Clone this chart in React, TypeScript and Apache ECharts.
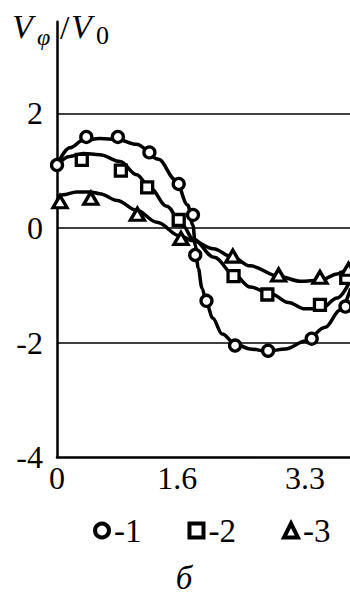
import React, { useEffect, useRef } from "react";
import * as echarts from "echarts";

// ---- data ----
const xTickValues = [0, 1.6, 3.3];
const yTickValues = [-4, -2, 0, 2];
const gridLevels = [2, 0, -2];
const legendNames = ["-1", "-2", "-3"];

// measured points, series 1 (circles)
const pts1X = [0, 0.39, 0.81, 1.23, 1.62, 1.81, 1.84, 1.99, 2.37, 2.81, 3.39, 3.84];
const pts1Y = [1.1, 1.59, 1.59, 1.32, 0.77, 0.23, -0.47, -1.27, -2.05, -2.14, -1.93, -1.37];
// series 2 (squares)
const pts2X = [0.33, 0.85, 1.2, 1.62, 2.35, 2.8, 3.5, 3.85];
const pts2Y = [1.19, 1.0, 0.71, 0.14, -0.84, -1.16, -1.34, -0.87];
// series 3 (triangles)
const pts3X = [0.04, 0.45, 1.07, 1.65, 2.34, 2.95, 3.5, 3.88];
const pts3Y = [0.46, 0.52, 0.24, -0.18, -0.49, -0.82, -0.86, -0.72];

// fitted curves
const fit1X = [0, 0.17, 0.35, 0.57, 0.8, 1.06, 1.35, 1.58, 1.74, 1.81, 1.84, 1.88, 1.93, 1.99, 2.07, 2.2, 2.37, 2.57, 2.8, 3.04, 3.31, 3.57, 3.77, 3.91];
const fit1Y = [1.1, 1.4, 1.53, 1.56, 1.55, 1.46, 1.2, 0.84, 0.4, 0.05, -0.3, -0.7, -1.05, -1.3, -1.57, -1.85, -2.02, -2.11, -2.15, -2.11, -1.97, -1.73, -1.43, -1.05];
const fit2X = [0, 0.17, 0.35, 0.57, 0.84, 1.06, 1.24, 1.46, 1.68, 1.81, 2.09, 2.37, 2.57, 2.84, 3.08, 3.3, 3.51, 3.73, 3.91];
const fit2Y = [1.1, 1.25, 1.3, 1.28, 1.16, 0.93, 0.7, 0.38, 0.03, -0.19, -0.51, -0.83, -1.03, -1.14, -1.3, -1.41, -1.41, -1.22, -0.9];
const fit3X = [0, 0.08, 0.26, 0.44, 0.57, 0.8, 1.06, 1.33, 1.64, 1.81, 2.08, 2.33, 2.57, 2.95, 3.24, 3.51, 3.73, 3.91];
const fit3Y = [0.49, 0.58, 0.63, 0.63, 0.6, 0.48, 0.31, 0.1, -0.14, -0.22, -0.36, -0.5, -0.66, -0.84, -0.93, -0.91, -0.8, -0.66];

const zip = (xs: number[], ys: number[]) => xs.map((x, i) => [x, ys[i]]);

const FONT = '"Liberation Serif", "Times New Roman", serif';

export default function App() {
  const ref = useRef<HTMLDivElement>(null);
  useEffect(() => {
    if (!ref.current) return;
    const chart = echarts.init(ref.current, undefined, { renderer: "svg" });
    const lineStyle = { color: "#000", width: 3.5 };
    const markerStyle = { color: "#fff", borderColor: "#000", borderWidth: 3.3, opacity: 1 };
    const fitSeries = (name: string, xs: number[], ys: number[], extra: any = {}) => ({
      name,
      type: "line",
      data: zip(xs, ys),
      smooth: 0.35,
      smoothMonotone: "x",
      showSymbol: false,
      symbol: "none",
      silent: true,
      lineStyle,
      z: 3,
      ...extra,
    });
    chart.setOption({
      animation: false,
      backgroundColor: "#fff",
      grid: { left: 57, right: 0, top: 21.7, bottom: 139.7 },
      xAxis: {
        type: "value",
        min: 0,
        max: 3.9,
        axisLine: { show: true, onZero: false, lineStyle: { color: "#000", width: 2.5 } },
        axisTick: { show: false },
        splitLine: { show: false },
        axisLabel: {
          customValues: xTickValues,
          margin: 5,
          color: "#000",
          fontFamily: FONT,
          fontSize: 32,
          formatter: (v: number) => String(v),
        },
      },
      yAxis: {
        type: "value",
        min: -4,
        max: 3.6,
        axisLine: { show: true, onZero: false, lineStyle: { color: "#000", width: 2.5 } },
        axisTick: { show: false },
        splitLine: { show: false },
        axisLabel: {
          customValues: yTickValues,
          margin: 14,
          color: "#000",
          fontFamily: FONT,
          fontSize: 32,
        },
      },
      legend: {
        data: [
          { name: legendNames[0], icon: "circle" },
          { name: legendNames[1], icon: "rect" },
          { name: legendNames[2], icon: "triangle" },
        ],
        left: 93,
        top: 514,
        padding: 0,
        itemWidth: 14,
        itemHeight: 14,
        itemGap: 46,
        itemStyle: { color: "#fff", borderColor: "#000", borderWidth: 4, opacity: 1 },
        textStyle: { color: "#000", fontFamily: FONT, fontSize: 33 },
        selectedMode: false,
      },
      graphic: [
        { type: "text", style: { x: 12, y: 26, text: "V", verticalAlign: "middle", font: `italic 34px ${FONT}`, fill: "#000" } },
        { type: "text", style: { x: 37, y: 37, text: "φ", verticalAlign: "middle", font: `italic 24px ${FONT}`, fill: "#000" } },
        { type: "text", style: { x: 60, y: 27, text: "/", verticalAlign: "middle", font: `34px ${FONT}`, fill: "#000" } },
        { type: "text", style: { x: 71, y: 26, text: "V", verticalAlign: "middle", font: `italic 34px ${FONT}`, fill: "#000" } },
        { type: "text", style: { x: 96, y: 35, text: "0", verticalAlign: "middle", font: `26px ${FONT}`, fill: "#000" } },
        { type: "text", style: { x: 184, y: 578, text: "б", align: "center", verticalAlign: "middle", font: `italic 33px ${FONT}`, fill: "#000" } },
      ],
      series: [
        fitSeries("fit1", fit1X, fit1Y, {
          markLine: {
            silent: true,
            symbol: "none",
            label: { show: false },
            lineStyle: { color: "#000", width: 1.5, type: "solid" },
            data: gridLevels.map((v) => ({ yAxis: v })),
          },
        }),
        fitSeries("fit2", fit2X, fit2Y),
        fitSeries("fit3", fit3X, fit3Y),
        {
          name: legendNames[0],
          type: "scatter",
          symbol: "circle",
          symbolSize: 11,
          data: zip(pts1X, pts1Y),
          itemStyle: markerStyle,
          z: 5,
        },
        {
          name: legendNames[1],
          type: "scatter",
          symbol: "rect",
          symbolSize: 11,
          data: zip(pts2X, pts2Y),
          itemStyle: markerStyle,
          z: 5,
        },
        {
          name: legendNames[2],
          type: "scatter",
          symbol: "triangle",
          symbolSize: [14, 12],
          data: zip(pts3X, pts3Y),
          itemStyle: markerStyle,
          z: 5,
        },
      ],
    });
    return () => chart.dispose();
  }, []);
  return (
    <div
      ref={ref}
      style={{ position: "absolute", left: 0, top: 0, width: 350, height: 597 }}
    />
  );
}
